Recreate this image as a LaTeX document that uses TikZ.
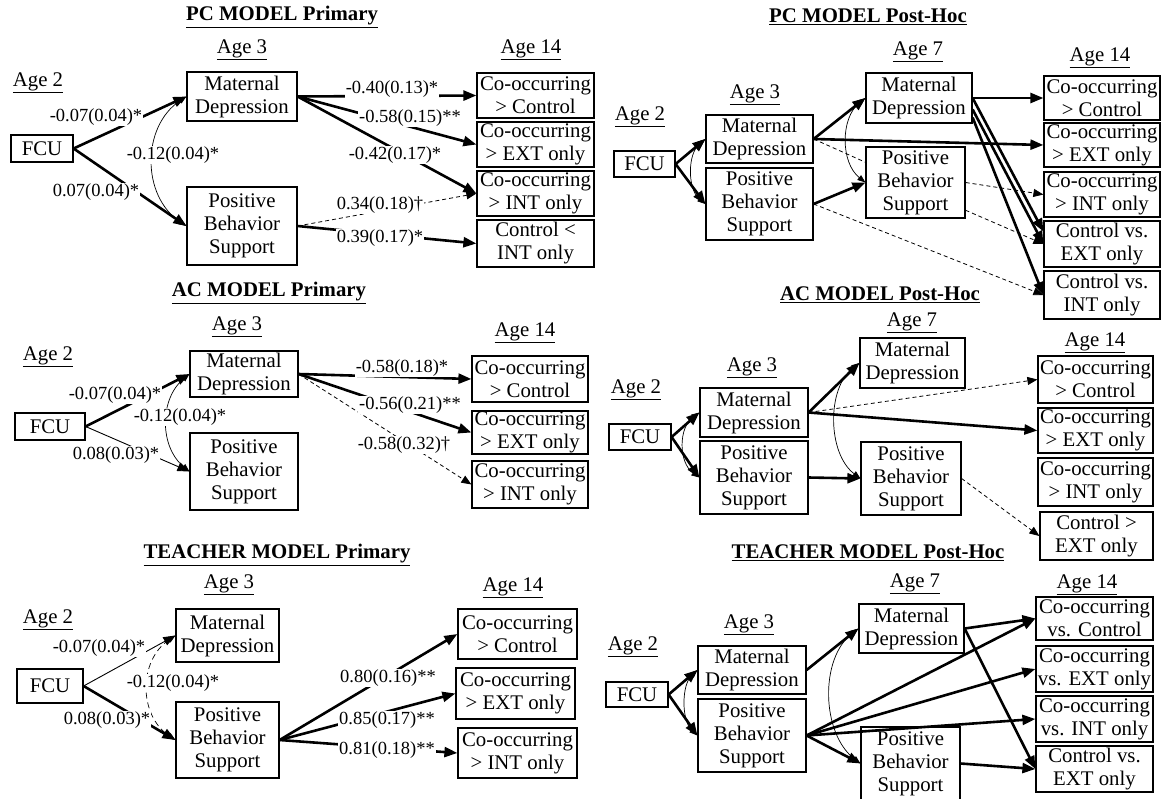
\documentclass[tikz,border=0pt]{standalone}
\usepackage{fontspec}
\setmainfont{Liberation Serif}
\usetikzlibrary{arrows.meta}
\newcommand\boxfont{\fontsize{20.8}{23}\selectfont}
\newcommand\labfont{\fontsize{18.5}{20}\selectfont}
\def\age#1{\underline{Age #1}}
\def\ttl#1{\underline{\textbf{#1}}}

\begin{document}
\begin{tikzpicture}[x=1pt,y=-1pt,font=\boxfont,
  >={Triangle[length=8pt,width=6pt]},
  box/.style={draw,line width=1.2pt,inner sep=0pt,align=center},
  sz/.style 2 args={minimum width=#1,minimum height=#2},
  lab/.style={font=\labfont,fill=white,inner sep=1pt},
  thk/.style={-{Triangle[length=13pt,width=10pt]},line width=2.6pt},
  thn/.style={-{Triangle[length=12pt,width=9pt]},line width=.9pt},
  dsh/.style={-{Triangle[length=10pt,width=8pt]},line width=.8pt,dash pattern=on 4pt off 3pt},
  dshn/.style={line width=.8pt,dash pattern=on 4pt off 3pt},
  cov/.style={<->,line width=.7pt}]
  \useasboundingbox[fill=white] (0,0) rectangle (1162,798);

  % PC MODEL Primary
  \node (pcpT) at (282,17) {\ttl{PC MODEL Primary}};
  \node (pcpA2) at (38,83) {\age{2}};
  \node (pcpA3) at (242,50) {\age{3}};
  \node (pcpA14) at (531,50) {\age{14}};
  \node[box,sz={62}{27}] (pcpFCU) at (42,148.5) {FCU};
  \node[box,sz={110}{49}] (pcpMD) at (242,96.5) {Maternal\\Depression};
  \node[box,sz={110}{78}] (pcpPBS) at (242,226) {Positive\\Behavior\\Support};
  \node[box,sz={117}{45}] (pcpO1) at (535.5,95.5) {Co-occurring\\> Control};
  \node[box,sz={117}{45}] (pcpO2) at (535.5,144.5) {Co-occurring\\> EXT only};
  \node[box,sz={117}{45}] (pcpO3) at (535.5,193.5) {Co-occurring\\> INT only};
  \node[box,sz={117}{47}] (pcpO4) at (535.5,243.5) {Control <\\INT only};
  \draw[thk] (pcpFCU.east) -- (pcpMD.west);
  \draw[thk] (pcpFCU.east) -- (pcpPBS.west);
  \draw[cov] (pcpMD.west) .. controls +(-45,30) and +(-45,-30) .. (pcpPBS.west);
  \draw[thk] (pcpMD.east) -- (pcpO1.west);
  \draw[thk] (pcpMD.east) -- (pcpO2.west);
  \draw[thk] (pcpMD.east) -- (pcpO3.west);
  \draw[dsh] (pcpPBS.east) -- (pcpO3.west);
  \draw[thk] (pcpPBS.east) -- (pcpO4.west);
  \node[lab] (pcpL1) at (96,117) {-0.07(0.04)*};
  \node[lab] (pcpL2) at (96,192) {0.07(0.04)*};
  \node[lab] (pcpL3) at (173,155) {-0.12(0.04)*};
  \node[lab] (pcpL4) at (392,89) {-0.40(0.13)*};
  \node[lab] (pcpL5) at (410,118) {-0.58(0.15)**};
  \node[lab] (pcpL6) at (395,155) {-0.42(0.17)*};
  \node[lab] (pcpL7) at (380,205) {0.34(0.18)\textdagger};
  \node[lab] (pcpL8) at (380,238) {0.39(0.17)*};

  % PC MODEL Post-Hoc
  \node (pchT) at (868,17) {\ttl{PC MODEL Post-Hoc}};
  \node (pchA2) at (640,117) {\age{2}};
  \node (pchA3) at (755,95) {\age{3}};
  \node (pchA7) at (918,52) {\age{7}};
  \node (pchA14) at (1100,58) {\age{14}};
  \node[box,sz={61}{26}] (pchFCU) at (644.5,164) {FCU};
  \node[box,sz={107}{48}] (pchMD3) at (759.5,139) {Maternal\\Depression};
  \node[box,sz={107}{72}] (pchPBS3) at (759.5,204) {Positive\\Behavior\\Support};
  \node[box,sz={106}{50}] (pchMD7) at (919,98) {Maternal\\Depression};
  \node[box,sz={99}{71}] (pchPBS7) at (915.5,182.5) {Positive\\Behavior\\Support};
  \node[box,sz={116}{44}] (pchO1) at (1102,98) {Co-occurring\\> Control};
  \node[box,sz={116}{44}] (pchO2) at (1102,145) {Co-occurring\\> EXT only};
  \node[box,sz={116}{45}] (pchO3) at (1102,194.5) {Co-occurring\\> INT only};
  \node[box,sz={116}{46}] (pchO4) at (1102,244) {Control vs.\\EXT only};
  \node[box,sz={116}{48}] (pchO5) at (1102,295) {Control vs.\\INT only};
  \draw[thk] (pchFCU.east) -- (pchMD3.west);
  \draw[thk] (pchFCU.east) -- (pchPBS3.west);
  \draw[cov] (pchMD3.west) .. controls +(-18,15) and +(-18,-15) .. (pchPBS3.west);
  \draw[thk] (pchMD3.east) -- (pchMD7.west);
  \draw[thk] (pchMD3.east) -- (pchO2.west);
  \draw[dshn] (pchMD3.east) -- (pchPBS7.158);
  \draw[thk] (pchPBS3.east) -- (pchPBS7.west);
  \draw[dsh] (pchPBS3.east) -- (pchO5.west);
  \draw[cov] (pchMD7.west) .. controls +(-25,20) and +(-25,-20) .. (pchPBS7.west);
  \draw[thk] (pchMD7.east) -- (pchO1.west);
  \draw[thk] (pchMD7.east) -- (pchO4.168);
  \draw[thk] (pchMD7.-12) -- (pchO4.west);
  \draw[thk] (pchMD7.-20) -- (pchO5.west);
  \draw[dsh] (pchPBS7.east) -- (pchO3.west);
  \draw[dsh] (pchPBS7.-29) -- (pchO4.west);

  % AC MODEL Primary
  \node (acpT) at (269,293) {\ttl{AC MODEL Primary}};
  \node (acpA2) at (48,357) {\age{2}};
  \node (acpA3) at (237,327) {\age{3}};
  \node (acpA14) at (525,333) {\age{14}};
  \node[box,sz={70}{27}] (acpFCU) at (50,426.5) {FCU};
  \node[box,sz={108}{46}] (acpMD) at (244,374) {Maternal\\Depression};
  \node[box,sz={108}{77}] (acpPBS) at (244,471.5) {Positive\\Behavior\\Support};
  \node[box,sz={116}{46}] (acpO1) at (530,379) {Co-occurring\\> Control};
  \node[box,sz={116}{43}] (acpO2) at (530,432.5) {Co-occurring\\> EXT only};
  \node[box,sz={116}{47}] (acpO3) at (530,484.5) {Co-occurring\\> INT only};
  \draw[thk] (acpFCU.east) -- (acpMD.west);
  \draw[thn] (acpFCU.east) -- (acpPBS.west);
  \draw[cov] (acpMD.west) .. controls +(-30,25) and +(-30,-25) .. (acpPBS.west);
  \draw[thk] (acpMD.east) -- (acpO1.west);
  \draw[thk] (acpMD.east) -- (acpO2.west);
  \draw[dsh] (acpMD.east) -- (acpO3.west);
  \node[lab] (acpL1) at (115,395) {-0.07(0.04)*};
  \node[lab] (acpL2) at (116,455) {0.08(0.03)*};
  \node[lab] (acpL3) at (180,417) {-0.12(0.04)*};
  \node[lab] (acpL4) at (402,368) {-0.58(0.18)*};
  \node[lab] (acpL5) at (410,405) {-0.56(0.21)**};
  \node[lab] (acpL6) at (404,445) {-0.58(0.32)\textdagger};

  % AC MODEL Post-Hoc
  \node (achT) at (880,295) {\ttl{AC MODEL Post-Hoc}};
  \node (achA2) at (636,390) {\age{2}};
  \node (achA3) at (752,368) {\age{3}};
  \node (achA7) at (912,323) {\age{7}};
  \node (achA14) at (1095,343) {\age{14}};
  \node[box,sz={62}{26}] (achFCU) at (640,437) {FCU};
  \node[box,sz={108}{49}] (achMD3) at (754,412.5) {Maternal\\Depression};
  \node[box,sz={108}{73}] (achPBS3) at (754,477.5) {Positive\\Behavior\\Support};
  \node[box,sz={105}{50}] (achMD7) at (912.5,363) {Maternal\\Depression};
  \node[box,sz={100}{73}] (achPBS7) at (911,478.5) {Positive\\Behavior\\Support};
  \node[box,sz={115}{47}] (achO1) at (1095.5,379.5) {Co-occurring\\> Control};
  \node[box,sz={115}{45}] (achO2) at (1095.5,430.5) {Co-occurring\\> EXT only};
  \node[box,sz={115}{48}] (achO3) at (1095.5,482) {Co-occurring\\> INT only};
  \node[box,sz={113}{48}] (achO4) at (1096.5,536) {Control >\\EXT only};
  \draw[thk] (achFCU.east) -- (achMD3.west);
  \draw[thk] (achFCU.east) -- (achPBS3.west);
  \draw[cov] (achMD3.west) .. controls +(-21,15) and +(-21,-15) .. (achPBS3.west);
  \draw[thk] (achMD3.east) -- (achMD7.west);
  \draw[dsh] (achMD3.east) -- (achO1.west);
  \draw[thk] (achMD3.east) -- (achO2.west);
  \draw[thk] (achPBS3.east) -- (achPBS7.west);
  \draw[cov] (achMD7.west) .. controls +(-33,25) and +(-33,-25) .. (achPBS7.west);
  \draw[dsh] (achPBS7.east) -- (achO4.west);

  % TEACHER MODEL Primary
  \node (tpT) at (277,555) {\ttl{TEACHER MODEL Primary}};
  \node (tpA2) at (48,620) {\age{2}};
  \node (tpA3) at (229,585) {\age{3}};
  \node (tpA14) at (513,588) {\age{14}};
  \node[box,sz={66}{34}] (tpFCU) at (50,686) {FCU};
  \node[box,sz={103}{53}] (tpMD) at (227.5,635.5) {Maternal\\Depression};
  \node[box,sz={103}{76}] (tpPBS) at (227.5,740) {Positive\\Behavior\\Support};
  \node[box,sz={119}{50}] (tpO1) at (517.5,634) {Co-occurring\\> Control};
  \node[box,sz={119}{51}] (tpO2) at (515.5,693.5) {Co-occurring\\> EXT only};
  \node[box,sz={119}{50}] (tpO3) at (517.5,753) {Co-occurring\\> INT only};
  \draw[thn] (tpFCU.east) -- (tpMD.west);
  \draw[thk] (tpFCU.east) -- (tpPBS.west);
  \draw[cov,dash pattern=on 6pt off 4pt] (tpMD.west) .. controls +(-37,25) and +(-37,-25) .. (tpPBS.west);
  \draw[thk] (tpPBS.east) -- (tpO1.west);
  \draw[thk] (tpPBS.east) -- (tpO2.west);
  \draw[thk] (tpPBS.east) -- (tpO3.west);
  \node[lab] (tpL1) at (99,648) {-0.07(0.04)*};
  \node[lab] (tpL2) at (107,720) {0.08(0.03)*};
  \node[lab] (tpL3) at (173,683) {-0.12(0.04)*};
  \node[lab] (tpL4) at (388,678) {0.80(0.16)**};
  \node[lab] (tpL5) at (387,720) {0.85(0.17)**};
  \node[lab] (tpL6) at (387,750) {0.81(0.18)**};

  % TEACHER MODEL Post-Hoc
  \node (thT) at (868,553) {\ttl{TEACHER MODEL Post-Hoc}};
  \node (thA2) at (633,647) {\age{2}};
  \node (thA3) at (749,625) {\age{3}};
  \node (thA7) at (915,584) {\age{7}};
  \node (thA14) at (1087,585) {\age{14}};
  \node[box,sz={62}{25}] (thFCU) at (637,694.5) {FCU};
  \node[box,sz={108}{48}] (thMD3) at (752,670) {Maternal\\Depression};
  \node[box,sz={108}{73}] (thPBS3) at (752,735.5) {Positive\\Behavior\\Support};
  \node[box,sz={105}{49}] (thMD7) at (911.5,628.5) {Maternal\\Depression};
  \node[box,sz={99}{73}] (thPBS7) at (910.5,763.5) {Positive\\Behavior\\Support};
  \node[box,sz={117}{43}] (thO1) at (1094.5,618.5) {Co-occurring\\vs. Control};
  \node[box,sz={117}{46}] (thO2) at (1094.5,669) {Co-occurring\\vs. EXT only};
  \node[box,sz={117}{46}] (thO3) at (1094.5,719) {Co-occurring\\vs. INT only};
  \node[box,sz={117}{46}] (thO4) at (1094.5,769) {Control vs.\\EXT only};
  \draw[thk] (thFCU.east) -- (thMD3.west);
  \draw[thk] (thFCU.east) -- (thPBS3.west);
  \draw[cov] (thMD3.west) .. controls +(-16,15) and +(-16,-15) .. (thPBS3.west);
  \draw[thk] (thMD3.east) -- (thMD7.west);
  \draw[thk] (thPBS3.east) -- (thPBS7.west);
  \draw[thk] (thPBS3.east) -- (thO1.west);
  \draw[thk] (thPBS3.east) -- (thO2.west);
  \draw[thk] (thPBS3.east) -- (thO3.west);
  \draw[cov] (thMD7.west) .. controls +(-39,30) and +(-39,-30) .. (thPBS7.west);
  \draw[thk] (thMD7.east) -- (thO1.west);
  \draw[thk] (thMD7.east) -- (thO4.west);
  \draw[thk] (thPBS7.east) -- (thO4.west);
\end{tikzpicture}
\end{document}
